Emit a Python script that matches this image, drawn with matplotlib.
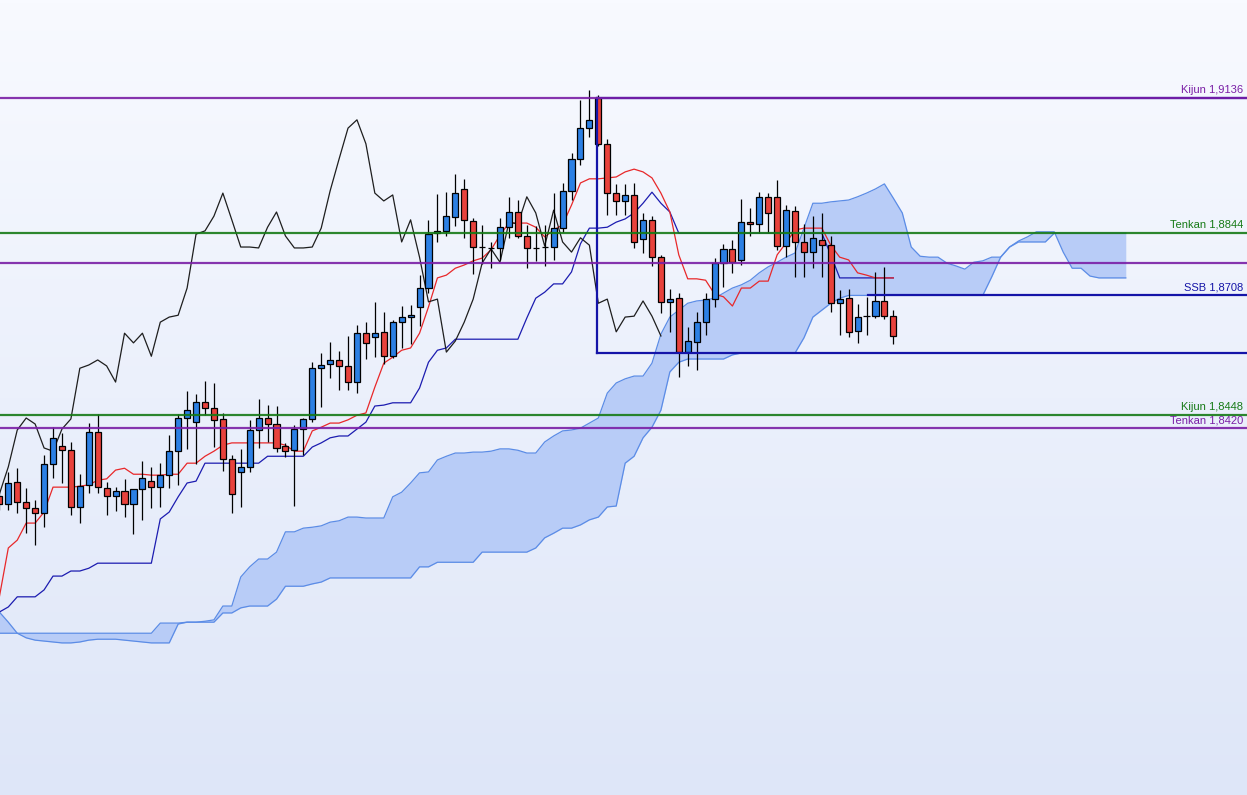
import numpy as np
import matplotlib
matplotlib.use("Agg")
import matplotlib.pyplot as plt
from matplotlib.colors import LinearSegmentedColormap

# daily candles
opens = [
    1.8273, 1.8255, 1.8303, 1.8260, 1.8247, 1.8236, 1.8342, 1.8381, 1.8372, 1.8249,
    1.8297, 1.8412, 1.8290, 1.8273, 1.8284, 1.8255, 1.8288, 1.8305, 1.8292, 1.8318,
    1.8370, 1.8442, 1.8433, 1.8477, 1.8464, 1.8440, 1.8353, 1.8325, 1.8336, 1.8416,
    1.8442, 1.8429, 1.8381, 1.8372, 1.8418, 1.8440, 1.8550, 1.8559, 1.8568, 1.8555,
    1.8520, 1.8626, 1.8618, 1.8629, 1.8576, 1.8650, 1.8661, 1.8683, 1.8724, 1.8843,
    1.8848, 1.8878, 1.8939, 1.8869, 1.8813, 1.8811, 1.8811, 1.8856, 1.8889, 1.8837,
    1.8811, 1.8813, 1.8813, 1.8854, 1.8935, 1.9004, 1.9071, 1.9136, 1.9037, 1.8930,
    1.8913, 1.8926, 1.8830, 1.8872, 1.8791, 1.8694, 1.8702, 1.8585, 1.8607, 1.8650,
    1.8700, 1.8778, 1.8809, 1.8785, 1.8867, 1.8863, 1.8922, 1.8922, 1.8815, 1.8891,
    1.8824, 1.8802, 1.8828, 1.8817, 1.8691, 1.8702, 1.8631, 1.8663, 1.8663, 1.8696,
    1.8663]
highs = [
    1.8286, 1.8325, 1.8333, 1.8290, 1.8264, 1.8361, 1.8422, 1.8409, 1.8390, 1.8320,
    1.8431, 1.8451, 1.8303, 1.8292, 1.8310, 1.8288, 1.8349, 1.8336, 1.8344, 1.8405,
    1.8451, 1.8501, 1.8494, 1.8522, 1.8518, 1.8453, 1.8361, 1.8375, 1.8438, 1.8483,
    1.8470, 1.8468, 1.8388, 1.8427, 1.8442, 1.8563, 1.8583, 1.8607, 1.8587, 1.8620,
    1.8644, 1.8650, 1.8694, 1.8672, 1.8655, 1.8685, 1.8687, 1.8752, 1.8872, 1.8928,
    1.8932, 1.8971, 1.8961, 1.8876, 1.8861, 1.8824, 1.8876, 1.8922, 1.8915, 1.8861,
    1.8859, 1.8861, 1.8930, 1.8952, 1.9017, 1.9132, 1.9154, 1.9143, 1.9047, 1.8950,
    1.8950, 1.8952, 1.8887, 1.8880, 1.8796, 1.8722, 1.8713, 1.8639, 1.8672, 1.8713,
    1.8789, 1.8820, 1.8828, 1.8917, 1.8898, 1.8932, 1.8930, 1.8958, 1.8904, 1.8902,
    1.8863, 1.8880, 1.8887, 1.8837, 1.8720, 1.8722, 1.8689, 1.8705, 1.8759, 1.8770,
    1.8676]
lows = [
    1.8242, 1.8242, 1.8236, 1.8192, 1.8166, 1.8205, 1.8312, 1.8301, 1.8231, 1.8214,
    1.8279, 1.8279, 1.8231, 1.8240, 1.8227, 1.8190, 1.8221, 1.8247, 1.8249, 1.8290,
    1.8297, 1.8374, 1.8342, 1.8448, 1.8379, 1.8327, 1.8236, 1.8249, 1.8325, 1.8377,
    1.8390, 1.8368, 1.8357, 1.8251, 1.8362, 1.8433, 1.8466, 1.8529, 1.8503, 1.8503,
    1.8496, 1.8570, 1.8574, 1.8559, 1.8572, 1.8594, 1.8602, 1.8642, 1.8713, 1.8824,
    1.8837, 1.8859, 1.8833, 1.8754, 1.8776, 1.8767, 1.8785, 1.8833, 1.8833, 1.8767,
    1.8783, 1.8772, 1.8785, 1.8846, 1.8915, 1.8991, 1.9052, 1.9032, 1.8882, 1.8882,
    1.8882, 1.8811, 1.8800, 1.8772, 1.8670, 1.8629, 1.8531, 1.8555, 1.8546, 1.8622,
    1.8683, 1.8726, 1.8757, 1.8774, 1.8837, 1.8843, 1.8843, 1.8807, 1.8791, 1.8748,
    1.8748, 1.8767, 1.8748, 1.8672, 1.8622, 1.8618, 1.8605, 1.8622, 1.8659, 1.8657,
    1.8602]
closes = [
    1.8255, 1.8301, 1.8260, 1.8247, 1.8236, 1.8342, 1.8399, 1.8372, 1.8249, 1.8294,
    1.8412, 1.8292, 1.8273, 1.8284, 1.8255, 1.8288, 1.8312, 1.8292, 1.8318, 1.8370,
    1.8442, 1.8459, 1.8477, 1.8464, 1.8438, 1.8353, 1.8277, 1.8336, 1.8416, 1.8442,
    1.8429, 1.8377, 1.8370, 1.8418, 1.8440, 1.8550, 1.8557, 1.8568, 1.8555, 1.8520,
    1.8626, 1.8605, 1.8626, 1.8576, 1.8650, 1.8661, 1.8665, 1.8724, 1.8841, 1.8848,
    1.8880, 1.8930, 1.8872, 1.8813, 1.8813, 1.8811, 1.8856, 1.8889, 1.8837, 1.8811,
    1.8811, 1.8813, 1.8854, 1.8935, 1.9004, 1.9071, 1.9089, 1.9037, 1.8930, 1.8913,
    1.8926, 1.8824, 1.8872, 1.8791, 1.8694, 1.8700, 1.8585, 1.8609, 1.8650, 1.8700,
    1.8778, 1.8809, 1.8780, 1.8867, 1.8863, 1.8922, 1.8887, 1.8815, 1.8893, 1.8824,
    1.8802, 1.8833, 1.8817, 1.8691, 1.8700, 1.8629, 1.8661, 1.8663, 1.8696, 1.8663,
    1.8620]

# ichimoku lines
tenkan = [
    1.8054, 1.8160, 1.8177, 1.8214, 1.8214, 1.8238, 1.8292, 1.8292, 1.8292, 1.8294,
    1.8297, 1.8307, 1.8310, 1.8329, 1.8333, 1.8320, 1.8320, 1.8318, 1.8318, 1.8320,
    1.8320, 1.8344, 1.8344, 1.8359, 1.8370, 1.8383, 1.8388, 1.8388, 1.8388, 1.8388,
    1.8388, 1.8388, 1.8383, 1.8370, 1.8370, 1.8414, 1.8422, 1.8431, 1.8431, 1.8438,
    1.8448, 1.8453, 1.8509, 1.8561, 1.8574, 1.8589, 1.8594, 1.8626, 1.8683, 1.8746,
    1.8752, 1.8767, 1.8774, 1.8783, 1.8789, 1.8807, 1.8839, 1.8865, 1.8865, 1.8865,
    1.8856, 1.8835, 1.8850, 1.8861, 1.8904, 1.8952, 1.8961, 1.8961, 1.8963, 1.8965,
    1.8976, 1.8982, 1.8976, 1.8963, 1.8930, 1.8889, 1.8796, 1.8744, 1.8744, 1.8741,
    1.8711, 1.8705, 1.8685, 1.8724, 1.8724, 1.8739, 1.8739, 1.8796, 1.8822, 1.8850,
    1.8854, 1.8854, 1.8854, 1.8817, 1.8791, 1.8785, 1.8757, 1.8752, 1.8746, 1.8746,
    1.8746]
kijun = [
    1.8021, 1.8032, 1.8054, 1.8054, 1.8054, 1.8069, 1.8099, 1.8099, 1.8110, 1.8110,
    1.8116, 1.8127, 1.8127, 1.8127, 1.8127, 1.8127, 1.8127, 1.8127, 1.8223, 1.8238,
    1.8271, 1.8301, 1.8305, 1.8344, 1.8344, 1.8344, 1.8344, 1.8344, 1.8344, 1.8344,
    1.8359, 1.8359, 1.8359, 1.8359, 1.8359, 1.8379, 1.8388, 1.8399, 1.8403, 1.8403,
    1.8418, 1.8433, 1.8468, 1.8470, 1.8475, 1.8475, 1.8475, 1.8507, 1.8563, 1.8589,
    1.8594, 1.8613, 1.8613, 1.8613, 1.8613, 1.8613, 1.8613, 1.8613, 1.8613, 1.8659,
    1.8702, 1.8715, 1.8733, 1.8733, 1.8759, 1.8820, 1.8854, 1.8854, 1.8856, 1.8867,
    1.8874, 1.8887, 1.8908, 1.8932, 1.8908, 1.8889, 1.8843, 1.8843, 1.8843, 1.8843,
    1.8843, 1.8843, 1.8843, 1.8843, 1.8843, 1.8843, 1.8843, 1.8843, 1.8843, 1.8843,
    1.8843, 1.8843, 1.8843, 1.8796, 1.8746, 1.8746, 1.8746, 1.8746, 1.8746, 1.8746,
    1.8746]
span_a = [1.7975] * 18 + [
    1.7997, 1.7997, 1.7997,
    1.7999, 1.7999, 1.8001, 1.8004,
    1.8034, 1.8034, 1.8097, 1.8119, 1.8136, 1.8136,
    1.8151, 1.8195, 1.8195, 1.8203, 1.8205, 1.8208, 1.8216, 1.8219, 1.8227, 1.8227,
    1.8225, 1.8225, 1.8225, 1.8271, 1.8281, 1.8301, 1.8323, 1.8325, 1.8351, 1.8359,
    1.8366, 1.8366, 1.8368, 1.8368, 1.8370, 1.8375, 1.8375, 1.8372, 1.8366, 1.8366,
    1.8390, 1.8403, 1.8414, 1.8416, 1.8420, 1.8431, 1.8442, 1.8496, 1.8518, 1.8527,
    1.8533, 1.8533, 1.8561, 1.8624, 1.8661, 1.8676, 1.8691, 1.8696, 1.8698, 1.8702,
    1.8713, 1.8724, 1.8731, 1.8741, 1.8757, 1.8770, 1.8780, 1.8791, 1.8800, 1.8854,
    1.8908, 1.8908, 1.8911, 1.8913, 1.8915, 1.8922, 1.8930, 1.8939, 1.8950, 1.8919,
    1.8887, 1.8813, 1.8793, 1.8791, 1.8791, 1.8778, 1.8772, 1.8765, 1.8780, 1.8783,
    1.8791, 1.8791, 1.8813, 1.8826, 1.8835, 1.8846, 1.8846, 1.8846, 1.8802, 1.8767,
    1.8767, 1.8750, 1.8746, 1.8746, 1.8746, 1.8746]
span_b = [
    1.8021, 1.7999, 1.7975, 1.7965, 1.7960, 1.7958, 1.7956, 1.7954, 1.7954, 1.7956,
    1.7960, 1.7962, 1.7962, 1.7962, 1.7960, 1.7958, 1.7956, 1.7954, 1.7954, 1.7954,
    1.7995, 1.7999, 1.7999, 1.7999, 1.7999, 1.8019, 1.8019, 1.8030, 1.8034, 1.8034,
    1.8034, 1.8049, 1.8077, 1.8077, 1.8077, 1.8082, 1.8086, 1.8095, 1.8095, 1.8095,
    1.8095, 1.8095, 1.8095, 1.8095, 1.8095, 1.8095, 1.8095, 1.8119, 1.8119, 1.8129,
    1.8129, 1.8129, 1.8129, 1.8129, 1.8151, 1.8151, 1.8151, 1.8151, 1.8151, 1.8151,
    1.8160, 1.8182, 1.8192, 1.8203, 1.8203, 1.8210, 1.8221, 1.8227, 1.8249, 1.8251,
    1.8344, 1.8359, 1.8399, 1.8422, 1.8459, 1.8542, 1.8563, 1.8570, 1.8570, 1.8570,
    1.8570, 1.8570, 1.8579, 1.8583, 1.8583, 1.8583, 1.8583, 1.8583, 1.8583, 1.8583,
    1.8616, 1.8661, 1.8676, 1.8691, 1.8702, 1.8708, 1.8708, 1.8708, 1.8708, 1.8708,
    1.8708, 1.8708, 1.8708, 1.8708, 1.8708, 1.8708, 1.8708, 1.8708, 1.8708, 1.8708,
    1.8708, 1.8748, 1.8791, 1.8813, 1.8824, 1.8824, 1.8824, 1.8824, 1.8843, 1.8843,
    1.8843, 1.8843, 1.8843, 1.8843, 1.8843, 1.8843, 1.8843]
chikou_shift = 26

# horizontal levels drawn on the chart
levels = [1.9136, 1.8844, 1.8778, 1.8448, 1.8420]
level_labels = ["Kijun 1,9136", "Tenkan 1,8844", "", "Kijun 1,8448", "Tenkan 1,8420"]
level_kinds = ["purple", "green", "purple", "green", "purple"]
ssb_level = 1.8708
ssb_label = "SSB 1,8708"
ssb_start = 97.2
zone_top = 1.9136
zone_bottom = 1.8583
zone_start = 66.85

COLORS = {"purple": "#7a1fa6", "green": "#167a16", "blue": "#1414a8"}

o = np.array(opens)
h = np.array(highs)
l = np.array(lows)
c = np.array(closes)
x = np.arange(len(c))
xc = np.arange(len(span_a))

fig = plt.figure(figsize=(12.47, 7.95), dpi=100)
ax = fig.add_axes([0, 0, 1, 1])
ax.set_xlim(0.07, 139.56)
ax.set_ylim(1.7624, 1.9349)
ax.axis("off")

# background gradient
cmap = LinearSegmentedColormap.from_list("bg", ["#dee6f8", "#f8faff"])
grad = np.linspace(0, 1, 256).reshape(-1, 1)
ax.imshow(grad, extent=[0, 1, 0, 1], transform=ax.transAxes, cmap=cmap,
          aspect="auto", origin="lower", zorder=0)

# cloud
ax.fill_between(xc, span_a, span_b, color="#b8ccf7", lw=0, zorder=1)
ax.plot(xc, span_a, color="#5b8ce6", lw=0.9, zorder=2)
ax.plot(xc, span_b, color="#5b8ce6", lw=0.9, zorder=2)

# lines
ax.plot(x, kijun, color="#1c1cb0", lw=0.9, zorder=3)
ax.plot(x, tenkan, color="#e8282a", lw=0.9, zorder=3)
ax.plot(x[:len(c) - chikou_shift], c[chikou_shift:], color="#1e1e1e", lw=0.9, zorder=3)

# candles
up = c >= o
body_colors = np.where(up, "#2c80e4", "#e8423c")
ax.vlines(x, l, h, color="black", lw=0.9, zorder=5)
ax.bar(x, np.abs(c - o), bottom=np.minimum(o, c), width=0.68, color=body_colors,
       edgecolor="black", linewidth=0.9, zorder=6)

# zone box + ssb
ax.plot([zone_start, zone_start], [zone_bottom, zone_top], color=COLORS["blue"], lw=1.6, zorder=7)
ax.plot([zone_start, 140], [zone_top, zone_top], color=COLORS["blue"], lw=1.6, zorder=7)
ax.plot([zone_start, 140], [zone_bottom, zone_bottom], color=COLORS["blue"], lw=1.6, zorder=7)
ax.plot([ssb_start, 140], [ssb_level, ssb_level], color=COLORS["blue"], lw=1.6, zorder=7)
ax.annotate(ssb_label, xy=(1, ssb_level), xycoords=("axes fraction", "data"),
            xytext=(-4, 3), textcoords="offset pixels", ha="right", va="bottom",
            color=COLORS["blue"], fontsize=8, family="Liberation Sans", zorder=9)

for lev, lab, kind in zip(levels, level_labels, level_kinds):
    ax.axhline(lev, color=COLORS[kind], lw=1.6, alpha=0.9, zorder=8)
    if lab:
        ax.annotate(lab, xy=(1, lev), xycoords=("axes fraction", "data"),
                    xytext=(-4, 3), textcoords="offset pixels", ha="right", va="bottom",
                    color=COLORS[kind], fontsize=8, family="Liberation Sans", zorder=9)

fig.savefig("out.png", dpi=100)
